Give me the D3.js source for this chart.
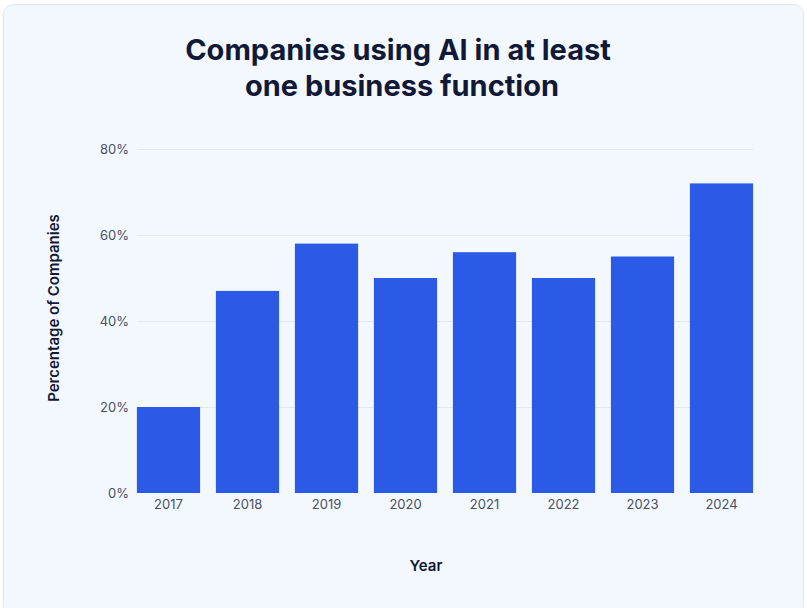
<!DOCTYPE html>
<html>
<head>
<meta charset="utf-8">
<script src="https://cdn.jsdelivr.net/npm/d3@7"></script>
<style>
  body { margin:0; background:#ffffff; }
  svg { display:block; font-family: Inter, "Noto Sans", sans-serif; }
</style>
</head>
<body>
<svg id="chart" width="807" height="608"></svg>
<script>
var years = ["2017","2018","2019","2020","2021","2022","2023","2024"];
var percents = [20, 47, 58, 50, 56, 50, 55, 72];
var yTicks = [0, 20, 40, 60, 80];

var svg = d3.select("#chart");

// card background
svg.append("rect")
    .attr("x",3.5).attr("y",4.5)
    .attr("width",800).attr("height",610)
    .attr("rx",10)
    .attr("fill","#f3f8fe")
    .attr("stroke","#dbe6f7");

// title
svg.append("text")
    .attr("x",398).attr("y",60)
    .attr("text-anchor","middle")
    .attr("font-size",29).attr("font-weight",700)
    .attr("fill","#111936")
    .text("Companies using AI in at least");
svg.append("text")
    .attr("x",402).attr("y",96)
    .attr("text-anchor","middle")
    .attr("font-size",29).attr("font-weight",700)
    .attr("fill","#111936")
    .text("one business function");

var x = d3.scaleBand()
    .domain(years)
    .range([129, 761])
    .paddingInner(0.2)
    .paddingOuter(0.1);

var y = d3.scaleLinear()
    .domain([0, 80])
    .range([493, 149]);

// gridlines
svg.append("g").selectAll("line")
    .data(yTicks.slice(1))
    .enter().append("line")
    .attr("x1",137).attr("x2",753)
    .attr("y1",function(d){ return y(d)+0.5; })
    .attr("y2",function(d){ return y(d)+0.5; })
    .attr("stroke","#e2e8ef");

// bars
svg.append("g").selectAll("rect")
    .data(percents)
    .enter().append("rect")
    .attr("x",function(d,i){ return x(years[i]); })
    .attr("y",function(d){ return y(d); })
    .attr("width",x.bandwidth())
    .attr("height",function(d){ return y(0)-y(d); })
    .attr("fill","#2b5be6");

// y axis
var yAxis = svg.append("g")
    .attr("transform","translate(129,0)")
    .call(d3.axisLeft(y).tickValues(yTicks).tickSize(0).tickPadding(0)
        .tickFormat(function(d){ return d+"%"; }));
yAxis.select(".domain").remove();
yAxis.selectAll("text").attr("font-size",13).attr("fill","#4a4f63")
    .attr("font-family","Inter, sans-serif");

// x axis
var xAxis = svg.append("g")
    .attr("transform","translate(0,493)")
    .call(d3.axisBottom(x).tickSize(0).tickPadding(7));
xAxis.select(".domain").remove();
xAxis.selectAll("text").attr("font-size",13).attr("fill","#4a4f63")
    .attr("font-family","Inter, sans-serif");

// axis titles
svg.append("text")
    .attr("x",426).attr("y",571)
    .attr("text-anchor","middle")
    .attr("font-size",15).attr("font-weight",600)
    .attr("fill","#111936")
    .text("Year");
svg.append("text")
    .attr("transform","translate(59,308) rotate(-90)")
    .attr("text-anchor","middle")
    .attr("font-size",15).attr("font-weight",600)
    .attr("fill","#111936")
    .text("Percentage of Companies");
</script>
</body>
</html>
